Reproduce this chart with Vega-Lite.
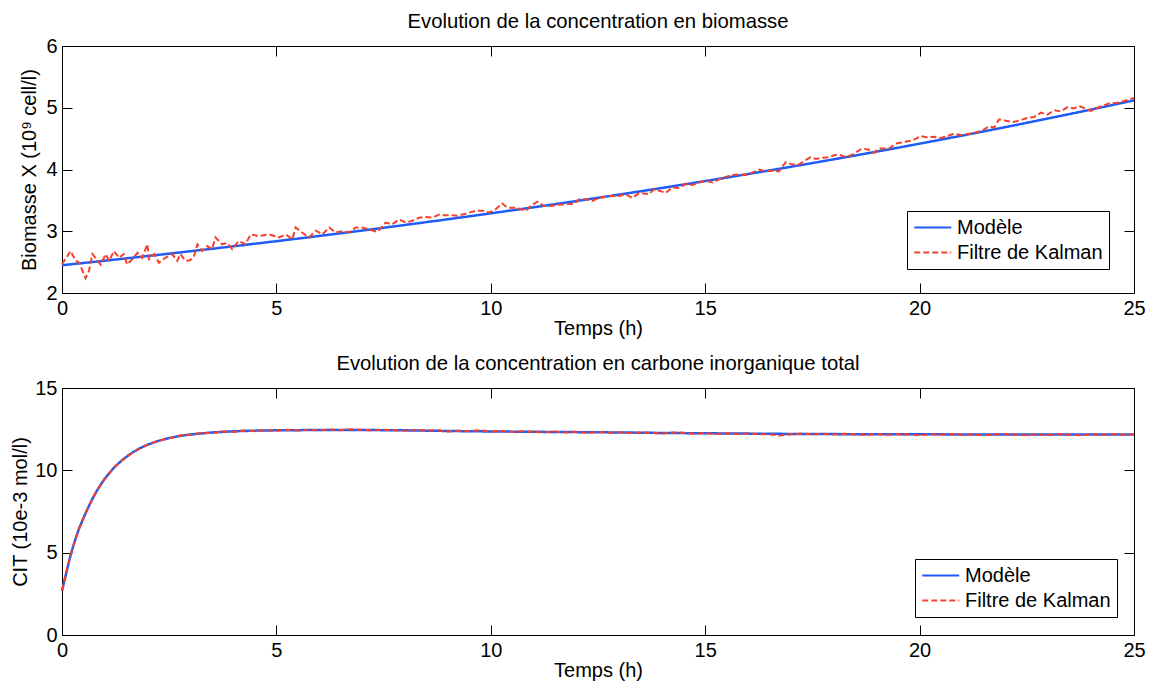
{
  "$schema": "https://vega.github.io/schema/vega-lite/v6.json",
  "background": "white",
  "padding": {"left": 10, "top": 11, "right": 5, "bottom": 5},
  "spacing": 95,
  "bounds": "flush",
  "datasets": {
    "topM": [
      {"t":0,"v":2.450,"s":"M"},{"t":0.5,"v":2.486,"s":"M"},{"t":1,"v":2.523,"s":"M"},{"t":1.5,"v":2.561,"s":"M"},{"t":2,"v":2.599,"s":"M"},{"t":2.5,"v":2.637,"s":"M"},{"t":3,"v":2.677,"s":"M"},{"t":3.5,"v":2.716,"s":"M"},{"t":4,"v":2.757,"s":"M"},{"t":4.5,"v":2.798,"s":"M"},{"t":5,"v":2.839,"s":"M"},{"t":5.5,"v":2.881,"s":"M"},{"t":6,"v":2.924,"s":"M"},{"t":6.5,"v":2.967,"s":"M"},{"t":7,"v":3.012,"s":"M"},{"t":7.5,"v":3.056,"s":"M"},{"t":8,"v":3.102,"s":"M"},{"t":8.5,"v":3.148,"s":"M"},{"t":9,"v":3.194,"s":"M"},{"t":9.5,"v":3.242,"s":"M"},{"t":10,"v":3.290,"s":"M"},{"t":10.5,"v":3.339,"s":"M"},{"t":11,"v":3.388,"s":"M"},{"t":11.5,"v":3.439,"s":"M"},{"t":12,"v":3.490,"s":"M"},{"t":12.5,"v":3.542,"s":"M"},{"t":13,"v":3.594,"s":"M"},{"t":13.5,"v":3.648,"s":"M"},{"t":14,"v":3.702,"s":"M"},{"t":14.5,"v":3.757,"s":"M"},{"t":15,"v":3.813,"s":"M"},{"t":15.5,"v":3.869,"s":"M"},{"t":16,"v":3.927,"s":"M"},{"t":16.5,"v":3.985,"s":"M"},{"t":17,"v":4.044,"s":"M"},{"t":17.5,"v":4.104,"s":"M"},{"t":18,"v":4.165,"s":"M"},{"t":18.5,"v":4.227,"s":"M"},{"t":19,"v":4.290,"s":"M"},{"t":19.5,"v":4.353,"s":"M"},{"t":20,"v":4.418,"s":"M"},{"t":20.5,"v":4.484,"s":"M"},{"t":21,"v":4.550,"s":"M"},{"t":21.5,"v":4.618,"s":"M"},{"t":22,"v":4.686,"s":"M"},{"t":22.5,"v":4.756,"s":"M"},{"t":23,"v":4.827,"s":"M"},{"t":23.5,"v":4.898,"s":"M"},{"t":24,"v":4.971,"s":"M"},{"t":24.5,"v":5.045,"s":"M"},{"t":25,"v":5.120,"s":"M"}
    ],
    "topK": [
      {"t":0,"v":2.465,"s":"K"},{"t":0.2,"v":2.68,"s":"K"},{"t":0.32,"v":2.52,"s":"K"},{"t":0.4,"v":2.49,"s":"K"},{"t":0.55,"v":2.24,"s":"K"},{"t":0.63,"v":2.36,"s":"K"},{"t":0.71,"v":2.63,"s":"K"},{"t":0.78,"v":2.57,"s":"K"},{"t":0.9,"v":2.46,"s":"K"},{"t":1.02,"v":2.63,"s":"K"},{"t":1.1,"v":2.52,"s":"K"},{"t":1.21,"v":2.68,"s":"K"},{"t":1.33,"v":2.57,"s":"K"},{"t":1.44,"v":2.63,"s":"K"},{"t":1.52,"v":2.46,"s":"K"},{"t":1.64,"v":2.55,"s":"K"},{"t":1.76,"v":2.65,"s":"K"},{"t":1.87,"v":2.57,"s":"K"},{"t":1.99,"v":2.79,"s":"K"},{"t":2.03,"v":2.55,"s":"K"},{"t":2.15,"v":2.63,"s":"K"},{"t":2.26,"v":2.49,"s":"K"},{"t":2.41,"v":2.57,"s":"K"},{"t":2.57,"v":2.63,"s":"K"},{"t":2.69,"v":2.52,"s":"K"},{"t":2.76,"v":2.63,"s":"K"},{"t":2.88,"v":2.52,"s":"K"},{"t":2.99,"v":2.53,"s":"K"},{"t":3.08,"v":2.60,"s":"K"},{"t":3.16,"v":2.79,"s":"K"},{"t":3.27,"v":2.68,"s":"K"},{"t":3.39,"v":2.76,"s":"K"},{"t":3.5,"v":2.71,"s":"K"},{"t":3.58,"v":2.90,"s":"K"},{"t":3.73,"v":2.79,"s":"K"},{"t":3.85,"v":2.81,"s":"K"},{"t":3.97,"v":2.71,"s":"K"},{"t":4.12,"v":2.84,"s":"K"},{"t":4.28,"v":2.79,"s":"K"},{"t":4.4,"v":2.95,"s":"K"},{"t":4.59,"v":2.92,"s":"K"},{"t":4.83,"v":2.95,"s":"K"},{"t":5.06,"v":2.90,"s":"K"},{"t":5.22,"v":2.95,"s":"K"},{"t":5.37,"v":2.87,"s":"K"},{"t":5.45,"v":3.06,"s":"K"},{"t":5.6,"v":2.98,"s":"K"},{"t":5.76,"v":2.90,"s":"K"},{"t":5.92,"v":3.01,"s":"K"},{"t":6.07,"v":2.95,"s":"K"},{"t":6.23,"v":3.06,"s":"K"},
      {"t":6.38,"v":2.98,"s":"K"},{"t":6.54,"v":3.00,"s":"K"},{"t":6.69,"v":2.98,"s":"K"},{"t":6.85,"v":3.06,"s":"K"},{"t":7.0,"v":3.06,"s":"K"},{"t":7.16,"v":3.03,"s":"K"},{"t":7.35,"v":2.99,"s":"K"},{"t":7.55,"v":3.14,"s":"K"},{"t":7.70,"v":3.11,"s":"K"},{"t":7.86,"v":3.19,"s":"K"},{"t":8.02,"v":3.14,"s":"K"},{"t":8.17,"v":3.17,"s":"K"},{"t":8.33,"v":3.22,"s":"K"},{"t":8.48,"v":3.23,"s":"K"},{"t":8.64,"v":3.22,"s":"K"},{"t":8.79,"v":3.27,"s":"K"},{"t":8.91,"v":3.26,"s":"K"},{"t":9.07,"v":3.26,"s":"K"},{"t":9.22,"v":3.25,"s":"K"},{"t":9.34,"v":3.27,"s":"K"},{"t":9.49,"v":3.30,"s":"K"},{"t":9.65,"v":3.33,"s":"K"},{"t":9.81,"v":3.33,"s":"K"},{"t":9.96,"v":3.30,"s":"K"},{"t":10.12,"v":3.36,"s":"K"},{"t":10.27,"v":3.45,"s":"K"},{"t":10.39,"v":3.38,"s":"K"},{"t":10.55,"v":3.38,"s":"K"},{"t":10.70,"v":3.36,"s":"K"},{"t":10.82,"v":3.33,"s":"K"},{"t":10.93,"v":3.41,"s":"K"},{"t":11.09,"v":3.48,"s":"K"},{"t":11.24,"v":3.41,"s":"K"},{"t":11.40,"v":3.41,"s":"K"},{"t":11.59,"v":3.43,"s":"K"},{"t":11.75,"v":3.44,"s":"K"},{"t":11.94,"v":3.44,"s":"K"},{"t":12.06,"v":3.52,"s":"K"},{"t":12.21,"v":3.52,"s":"K"},{"t":12.37,"v":3.49,"s":"K"},{"t":12.52,"v":3.54,"s":"K"},{"t":12.68,"v":3.56,"s":"K"},
      {"t":12.76,"v":3.57,"s":"K"},{"t":12.99,"v":3.57,"s":"K"},{"t":13.15,"v":3.60,"s":"K"},{"t":13.30,"v":3.54,"s":"K"},{"t":13.46,"v":3.62,"s":"K"},{"t":13.69,"v":3.60,"s":"K"},{"t":13.81,"v":3.68,"s":"K"},{"t":13.96,"v":3.65,"s":"K"},{"t":14.08,"v":3.62,"s":"K"},{"t":14.23,"v":3.71,"s":"K"},{"t":14.39,"v":3.70,"s":"K"},{"t":14.55,"v":3.77,"s":"K"},{"t":14.70,"v":3.75,"s":"K"},{"t":14.86,"v":3.79,"s":"K"},{"t":15.01,"v":3.82,"s":"K"},{"t":15.17,"v":3.79,"s":"K"},{"t":15.32,"v":3.84,"s":"K"},{"t":15.48,"v":3.88,"s":"K"},{"t":15.63,"v":3.91,"s":"K"},{"t":15.79,"v":3.92,"s":"K"},{"t":15.95,"v":3.91,"s":"K"},{"t":16.10,"v":3.95,"s":"K"},{"t":16.26,"v":4.00,"s":"K"},{"t":16.41,"v":3.97,"s":"K"},{"t":16.57,"v":3.98,"s":"K"},{"t":16.72,"v":3.97,"s":"K"},{"t":16.88,"v":4.12,"s":"K"},{"t":17.03,"v":4.08,"s":"K"},{"t":17.19,"v":4.08,"s":"K"},{"t":17.31,"v":4.14,"s":"K"},{"t":17.46,"v":4.20,"s":"K"},{"t":17.58,"v":4.17,"s":"K"},{"t":17.73,"v":4.19,"s":"K"},{"t":17.89,"v":4.20,"s":"K"},{"t":18.00,"v":4.23,"s":"K"},{"t":18.12,"v":4.24,"s":"K"},{"t":18.28,"v":4.20,"s":"K"},{"t":18.43,"v":4.24,"s":"K"},{"t":18.66,"v":4.34,"s":"K"},{"t":18.82,"v":4.32,"s":"K"},{"t":18.94,"v":4.27,"s":"K"},{"t":19.05,"v":4.34,"s":"K"},
      {"t":19.29,"v":4.34,"s":"K"},{"t":19.44,"v":4.42,"s":"K"},{"t":19.67,"v":4.45,"s":"K"},{"t":19.83,"v":4.47,"s":"K"},{"t":20.03,"v":4.54,"s":"K"},{"t":20.18,"v":4.52,"s":"K"},{"t":20.34,"v":4.53,"s":"K"},{"t":20.49,"v":4.51,"s":"K"},{"t":20.65,"v":4.54,"s":"K"},{"t":20.80,"v":4.58,"s":"K"},{"t":20.96,"v":4.56,"s":"K"},{"t":21.11,"v":4.57,"s":"K"},{"t":21.31,"v":4.60,"s":"K"},{"t":21.46,"v":4.63,"s":"K"},{"t":21.62,"v":4.70,"s":"K"},{"t":21.74,"v":4.68,"s":"K"},{"t":21.85,"v":4.81,"s":"K"},{"t":22.01,"v":4.79,"s":"K"},{"t":22.17,"v":4.77,"s":"K"},{"t":22.32,"v":4.79,"s":"K"},{"t":22.48,"v":4.83,"s":"K"},{"t":22.67,"v":4.85,"s":"K"},{"t":22.83,"v":4.92,"s":"K"},{"t":22.98,"v":4.89,"s":"K"},{"t":23.14,"v":4.96,"s":"K"},{"t":23.29,"v":4.94,"s":"K"},{"t":23.45,"v":5.01,"s":"K"},{"t":23.60,"v":4.99,"s":"K"},{"t":23.72,"v":5.03,"s":"K"},{"t":23.88,"v":4.98,"s":"K"},{"t":23.99,"v":4.95,"s":"K"},{"t":24.15,"v":5.00,"s":"K"},{"t":24.26,"v":5.03,"s":"K"},{"t":24.42,"v":5.07,"s":"K"},{"t":24.61,"v":5.08,"s":"K"},{"t":24.77,"v":5.11,"s":"K"},{"t":25,"v":5.16,"s":"K"}
    ],
    "botM": [
      {"t":0,"v":2.67,"s":"M"},{"t":0.1,"v":3.78,"s":"M"},{"t":0.2,"v":4.85,"s":"M"},{"t":0.3,"v":5.72,"s":"M"},{"t":0.4,"v":6.48,"s":"M"},{"t":0.5,"v":7.10,"s":"M"},{"t":0.6,"v":7.68,"s":"M"},{"t":0.7,"v":8.22,"s":"M"},{"t":0.8,"v":8.70,"s":"M"},{"t":0.9,"v":9.12,"s":"M"},{"t":1.0,"v":9.50,"s":"M"},{"t":1.2,"v":10.13,"s":"M"},{"t":1.4,"v":10.62,"s":"M"},{"t":1.6,"v":11.01,"s":"M"},{"t":1.8,"v":11.32,"s":"M"},{"t":2.0,"v":11.56,"s":"M"},{"t":2.25,"v":11.79,"s":"M"},{"t":2.5,"v":11.96,"s":"M"},{"t":2.75,"v":12.09,"s":"M"},{"t":3.0,"v":12.18,"s":"M"},{"t":3.5,"v":12.30,"s":"M"},{"t":4.0,"v":12.37,"s":"M"},{"t":4.5,"v":12.41,"s":"M"},{"t":5,"v":12.43,"s":"M"},{"t":6,"v":12.45,"s":"M"},{"t":7,"v":12.45,"s":"M"},{"t":8,"v":12.43,"s":"M"},{"t":9,"v":12.39,"s":"M"},{"t":10,"v":12.36,"s":"M"},{"t":11,"v":12.34,"s":"M"},{"t":12,"v":12.32,"s":"M"},{"t":13,"v":12.30,"s":"M"},{"t":14,"v":12.27,"s":"M"},{"t":15,"v":12.25,"s":"M"},{"t":16,"v":12.23,"s":"M"},{"t":17,"v":12.21,"s":"M"},{"t":18,"v":12.20,"s":"M"},{"t":19,"v":12.19,"s":"M"},{"t":20,"v":12.19,"s":"M"},{"t":21,"v":12.18,"s":"M"},{"t":22,"v":12.18,"s":"M"},{"t":23,"v":12.18,"s":"M"},{"t":24,"v":12.17,"s":"M"},{"t":25,"v":12.17,"s":"M"}
    ],
    "botK": [
      {"t":0,"v":2.70,"s":"K"},{"t":0.1,"v":3.82,"s":"K"},{"t":0.2,"v":4.87,"s":"K"},{"t":0.3,"v":5.70,"s":"K"},{"t":0.4,"v":6.50,"s":"K"},{"t":0.5,"v":7.08,"s":"K"},{"t":0.6,"v":7.70,"s":"K"},{"t":0.7,"v":8.20,"s":"K"},{"t":0.8,"v":8.72,"s":"K"},{"t":0.9,"v":9.10,"s":"K"},{"t":1.0,"v":9.52,"s":"K"},{"t":1.1,"v":9.80,"s":"K"},{"t":1.2,"v":10.15,"s":"K"},{"t":1.35,"v":10.50,"s":"K"},{"t":1.5,"v":10.80,"s":"K"},{"t":1.65,"v":11.08,"s":"K"},{"t":1.8,"v":11.30,"s":"K"},{"t":2.0,"v":11.58,"s":"K"},{"t":2.25,"v":11.80,"s":"K"},{"t":2.5,"v":11.94,"s":"K"},{"t":2.75,"v":12.11,"s":"K"},{"t":3.0,"v":12.16,"s":"K"},
      {"t":3.25,"v":12.27,"s":"K"},{"t":3.5,"v":12.26,"s":"K"},{"t":3.75,"v":12.36,"s":"K"},{"t":4.0,"v":12.33,"s":"K"},{"t":4.25,"v":12.42,"s":"K"},{"t":4.5,"v":12.38,"s":"K"},{"t":4.75,"v":12.44,"s":"K"},{"t":5.0,"v":12.41,"s":"K"},{"t":5.25,"v":12.47,"s":"K"},{"t":5.5,"v":12.42,"s":"K"},{"t":5.75,"v":12.46,"s":"K"},{"t":6.0,"v":12.43,"s":"K"},{"t":6.25,"v":12.48,"s":"K"},{"t":6.5,"v":12.44,"s":"K"},{"t":6.75,"v":12.50,"s":"K"},{"t":7.0,"v":12.46,"s":"K"},{"t":7.25,"v":12.42,"s":"K"},{"t":7.5,"v":12.47,"s":"K"},{"t":7.75,"v":12.44,"s":"K"},{"t":8.0,"v":12.40,"s":"K"},{"t":8.25,"v":12.45,"s":"K"},{"t":8.5,"v":12.41,"s":"K"},{"t":8.75,"v":12.44,"s":"K"},{"t":9.0,"v":12.36,"s":"K"},{"t":9.25,"v":12.41,"s":"K"},{"t":9.5,"v":12.38,"s":"K"},{"t":9.75,"v":12.44,"s":"K"},{"t":10.0,"v":12.35,"s":"K"},{"t":10.25,"v":12.39,"s":"K"},{"t":10.5,"v":12.33,"s":"K"},{"t":10.75,"v":12.37,"s":"K"},{"t":11.0,"v":12.34,"s":"K"},{"t":11.25,"v":12.31,"s":"K"},{"t":11.5,"v":12.36,"s":"K"},{"t":11.75,"v":12.30,"s":"K"},{"t":12.0,"v":12.34,"s":"K"},{"t":12.25,"v":12.28,"s":"K"},{"t":12.5,"v":12.33,"s":"K"},{"t":12.75,"v":12.29,"s":"K"},{"t":13.0,"v":12.32,"s":"K"},{"t":13.25,"v":12.26,"s":"K"},{"t":13.5,"v":12.30,"s":"K"},{"t":13.75,"v":12.27,"s":"K"},{"t":14.0,"v":12.24,"s":"K"},{"t":14.25,"v":12.30,"s":"K"},{"t":14.5,"v":12.28,"s":"K"},{"t":14.75,"v":12.22,"s":"K"},{"t":15.0,"v":12.26,"s":"K"},{"t":15.25,"v":12.20,"s":"K"},{"t":15.5,"v":12.25,"s":"K"},{"t":15.75,"v":12.21,"s":"K"},{"t":16.0,"v":12.24,"s":"K"},{"t":16.25,"v":12.20,"s":"K"},{"t":16.5,"v":12.18,"s":"K"},{"t":16.75,"v":12.11,"s":"K"},{"t":17.0,"v":12.19,"s":"K"},{"t":17.25,"v":12.23,"s":"K"},{"t":17.5,"v":12.19,"s":"K"},{"t":17.75,"v":12.22,"s":"K"},{"t":18.0,"v":12.17,"s":"K"},{"t":18.25,"v":12.22,"s":"K"},{"t":18.5,"v":12.18,"s":"K"},{"t":18.75,"v":12.15,"s":"K"},{"t":19.0,"v":12.21,"s":"K"},{"t":19.25,"v":12.16,"s":"K"},{"t":19.5,"v":12.20,"s":"K"},{"t":19.75,"v":12.17,"s":"K"},{"t":20.0,"v":12.13,"s":"K"},{"t":20.25,"v":12.19,"s":"K"},{"t":20.5,"v":12.16,"s":"K"},{"t":20.75,"v":12.20,"s":"K"},{"t":21.0,"v":12.15,"s":"K"},{"t":21.25,"v":12.19,"s":"K"},{"t":21.5,"v":12.14,"s":"K"},{"t":21.75,"v":12.18,"s":"K"},{"t":22.0,"v":12.21,"s":"K"},{"t":22.25,"v":12.16,"s":"K"},{"t":22.5,"v":12.13,"s":"K"},{"t":22.75,"v":12.18,"s":"K"},{"t":23.0,"v":12.15,"s":"K"},{"t":23.25,"v":12.20,"s":"K"},{"t":23.5,"v":12.16,"s":"K"},{"t":23.75,"v":12.13,"s":"K"},{"t":24.0,"v":12.19,"s":"K"},{"t":24.25,"v":12.15,"s":"K"},{"t":24.5,"v":12.20,"s":"K"},{"t":24.75,"v":12.16,"s":"K"},{"t":25.0,"v":12.18,"s":"K"}
    ]
  },
  "vconcat": [
    {
      "width": 1072,
      "height": 247,
      "title": {"text": "Evolution de la concentration en biomasse", "anchor": "middle"},
      "layer": [
        {
          "data": {"name": "topM"},
          "mark": {"type": "line", "strokeWidth": 2.5},
          "encoding": {
            "x": {"field": "t", "type": "quantitative", "scale": {"domain": [0, 25], "nice": false, "zero": false},
                  "axis": {"orient": "bottom", "title": "Temps (h)", "titlePadding": 0, "values": [0,5,10,15,20,25]}},
            "y": {"field": "v", "type": "quantitative", "scale": {"domain": [2, 6], "nice": false, "zero": false},
                  "axis": {"orient": "left", "title": "Biomasse X (10⁹ cell/l)", "titlePadding": 6, "values": [2,3,4,5,6]}},
            "color": {"field": "s", "type": "nominal", "scale": {"domain": ["M","K"], "range": ["#1f5cf5","#f5402c"]},
                      "legend": {"title": null, "legendX": 845, "legendY": 165, "labelExpr": "datum.label == 'M' ? 'Modèle' : 'Filtre de Kalman'"}},
            "strokeDash": {"field": "s", "type": "nominal", "scale": {"domain": ["M","K"], "range": [[1,0],[6,3]]},
                      "legend": {"title": null, "legendX": 845, "legendY": 165, "labelExpr": "datum.label == 'M' ? 'Modèle' : 'Filtre de Kalman'"}}
          }
        },
        {
          "data": {"name": "topK"},
          "mark": {"type": "line", "strokeWidth": 2},
          "encoding": {
            "x": {"field": "t", "type": "quantitative", "scale": {"domain": [0, 25], "nice": false, "zero": false},
                  "axis": {"orient": "top", "title": null, "labels": false, "values": [0,5,10,15,20,25]}},
            "y": {"field": "v", "type": "quantitative", "scale": {"domain": [2, 6], "nice": false, "zero": false},
                  "axis": {"orient": "right", "title": null, "labels": false, "values": [2,3,4,5,6]}},
            "color": {"field": "s", "type": "nominal"},
            "strokeDash": {"field": "s", "type": "nominal"}
          }
        }
      ],
      "resolve": {"axis": {"x": "independent", "y": "independent"}}
    },
    {
      "width": 1072,
      "height": 247,
      "title": {"text": "Evolution de la concentration en carbone inorganique total", "anchor": "middle"},
      "layer": [
        {
          "data": {"name": "botM"},
          "mark": {"type": "line", "strokeWidth": 2.5},
          "encoding": {
            "x": {"field": "t", "type": "quantitative", "scale": {"domain": [0, 25], "nice": false, "zero": false},
                  "axis": {"orient": "bottom", "title": "Temps (h)", "titlePadding": 0, "values": [0,5,10,15,20,25]}},
            "y": {"field": "v", "type": "quantitative", "scale": {"domain": [0, 15], "nice": false, "zero": false},
                  "axis": {"orient": "left", "title": "CIT (10e-3 mol/l)", "values": [0,5,10,15]}},
            "color": {"field": "s", "type": "nominal", "scale": {"domain": ["M","K"], "range": ["#1f5cf5","#f5402c"]},
                      "legend": {"title": null, "legendX": 853, "legendY": 171, "labelExpr": "datum.label == 'M' ? 'Modèle' : 'Filtre de Kalman'"}},
            "strokeDash": {"field": "s", "type": "nominal", "scale": {"domain": ["M","K"], "range": [[1,0],[6,3]]},
                      "legend": {"title": null, "legendX": 853, "legendY": 171, "labelExpr": "datum.label == 'M' ? 'Modèle' : 'Filtre de Kalman'"}}
          }
        },
        {
          "data": {"name": "botK"},
          "mark": {"type": "line", "strokeWidth": 2},
          "encoding": {
            "x": {"field": "t", "type": "quantitative", "scale": {"domain": [0, 25], "nice": false, "zero": false},
                  "axis": {"orient": "top", "title": null, "labels": false, "values": [0,5,10,15,20,25]}},
            "y": {"field": "v", "type": "quantitative", "scale": {"domain": [0, 15], "nice": false, "zero": false},
                  "axis": {"orient": "right", "title": null, "labels": false, "values": [0,5,10,15]}},
            "color": {"field": "s", "type": "nominal"},
            "strokeDash": {"field": "s", "type": "nominal"}
          }
        }
      ],
      "resolve": {"axis": {"x": "independent", "y": "independent"}}
    }
  ],
  "resolve": {"scale": {"color": "independent", "strokeDash": "independent"}, "legend": {"color": "independent", "strokeDash": "independent"}},
  "config": {
    "font": "Liberation Sans",
    "view": {"stroke": "black", "strokeWidth": 1},
    "axis": {
      "grid": false, "domain": false,
      "tickColor": "black", "tickSize": -10, "tickWidth": 1,
      "labelFont": "Liberation Sans", "labelFontSize": 20, "labelColor": "black",
      "labelPadding": 15, "labelFlush": false, "labelOverlap": false,
      "titleFont": "Liberation Sans", "titleFontSize": 20, "titleFontWeight": "normal", "titleColor": "black", "titlePadding": 4
    },
    "legend": {
      "orient": "none",
      "fillColor": "white", "strokeColor": "black", "padding": 6, "rowPadding": 4,
      "labelFont": "Liberation Sans", "labelFontSize": 20, "labelColor": "black",
      "symbolType": "M-1,0H3", "symbolSize": 342, "symbolStrokeWidth": 2, "labelOffset": 23
    },
    "title": {"font": "Liberation Sans", "fontSize": 20.3, "fontWeight": "normal", "color": "black", "offset": 4}
  }
}
